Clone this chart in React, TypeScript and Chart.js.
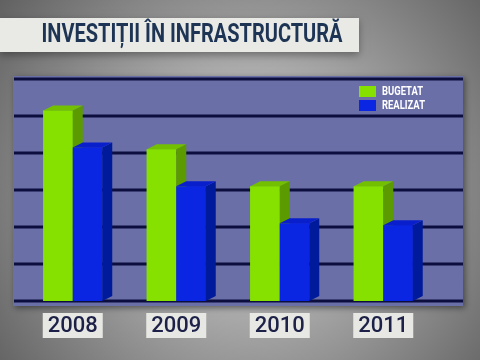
import React, { useEffect, useRef } from "react";
import { Chart, registerables } from "chart.js";
Chart.register(...registerables);

const TITLE = "INVESTIȚII ÎN INFRASTRUCTURĂ";
const YEARS = ["2008", "2009", "2010", "2011"];
const SERIES_LABELS = ["BUGETAT", "REALIZAT"];
const BUGETAT = [5.15, 4.1, 3.1, 3.1];
const REALIZAT = [4.15, 3.1, 2.1, 2.05];
const Y_MAX = 6;

const FRONT = ["#86e000", "#0a26e2"];
const SIDE = ["#5c9b00", "#001a9c"];
const TOP = ["#72c000", "#0a1fcc"];
const FONT = 'Roboto, "Liberation Sans", sans-serif';

const decor = {
  id: "decor",
  beforeDraw(chart: any) {
    const { ctx, width, height, chartArea: ca, scales } = chart;
    const y = scales.y;
    ctx.save();
    const g = ctx.createRadialGradient(250, 190, 20, 250, 190, 340);
    g.addColorStop(0, "#d2d2d2");
    g.addColorStop(1, "#575757");
    ctx.fillStyle = g;
    ctx.fillRect(0, 0, width, height);

    ctx.shadowColor = "rgba(0,0,0,0.35)";
    ctx.shadowBlur = 8;
    ctx.shadowOffsetY = 3;
    ctx.fillStyle = "#e9eae5";
    ctx.fillRect(0, 18, 359, 34);
    ctx.shadowColor = "transparent";
    ctx.fillStyle = "#1d3454";
    ctx.font = `bold 25px ${FONT}`;
    ctx.textAlign = "center";
    ctx.textBaseline = "middle";
    ctx.fillText(TITLE, 192, 36, 301);

    ctx.shadowColor = "rgba(0,0,0,0.45)";
    ctx.shadowBlur = 6;
    ctx.shadowOffsetX = 2;
    ctx.shadowOffsetY = 2;
    ctx.fillStyle = "#6a6fa7";
    ctx.fillRect(ca.left - 8, ca.top - 3, ca.right - ca.left + 36, ca.bottom - ca.top + 8);
    ctx.restore();

    ctx.save();
    ctx.strokeStyle = "#0c0e3e";
    ctx.lineWidth = 3;
    for (let v = 0; v <= Y_MAX; v++) {
      const py = Math.round(y.getPixelForValue(v));
      ctx.beginPath();
      ctx.moveTo(ca.left - 7, py);
      ctx.lineTo(ca.right + 28, py);
      ctx.stroke();
    }
    ctx.restore();
  },
  afterDatasetsDraw(chart: any) {
    const ctx = chart.ctx;
    const dx = 10, dy = 5;
    ctx.save();
    chart.data.datasets.forEach((_ds: any, idx: number) => {
      const meta = chart.getDatasetMeta(idx);
      meta.data.forEach((el: any) => {
        const { x, y, base, width } = el.getProps(["x", "y", "base", "width"], true);
        const l = x - width / 2, r = x + width / 2;
        ctx.fillStyle = FRONT[idx];
        ctx.fillRect(l, y, width, base - y);
        ctx.fillStyle = SIDE[idx];
        ctx.beginPath();
        ctx.moveTo(r, y);
        ctx.lineTo(r + dx, y - dy);
        ctx.lineTo(r + dx, base - dy);
        ctx.lineTo(r, base);
        ctx.closePath();
        ctx.fill();
        ctx.fillStyle = TOP[idx];
        ctx.beginPath();
        ctx.moveTo(l, y);
        ctx.lineTo(l + dx, y - dy);
        ctx.lineTo(r + dx, y - dy);
        ctx.lineTo(r, y);
        ctx.closePath();
        ctx.fill();
      });
    });
    ctx.restore();
  },
  afterDraw(chart: any) {
    const ctx = chart.ctx;
    ctx.save();
    SERIES_LABELS.forEach((lab, i) => {
      const top = 86 + i * 14;
      ctx.fillStyle = FRONT[i];
      ctx.fillRect(359, top, 17, 11);
      ctx.fillStyle = "#ffffff";
      ctx.font = `bold 12px ${FONT}`;
      ctx.textAlign = "left";
      ctx.textBaseline = "middle";
      ctx.fillText(lab, 382, top + 6, i === 0 ? 41 : 43);
    });
    ctx.restore();
  },
};

export default function App() {
  const ref = useRef<HTMLCanvasElement>(null);
  useEffect(() => {
    if (!ref.current) return;
    const chart = new Chart(ref.current, {
      type: "bar",
      data: {
        labels: YEARS,
        datasets: [
          { label: SERIES_LABELS[0], data: BUGETAT, backgroundColor: FRONT[0] },
          { label: SERIES_LABELS[1], data: REALIZAT, backgroundColor: FRONT[1] },
        ],
      },
      options: {
        responsive: false,
        animation: false,
        devicePixelRatio: 1,
        layout: { padding: { left: 21, right: 45, top: 79, bottom: 0 } },
        datasets: { bar: { categoryPercentage: 0.57, barPercentage: 1 } },
        plugins: { legend: { display: false }, title: { display: false }, tooltip: { enabled: false } },
        scales: {
          y: { display: false, min: 0, max: Y_MAX, ticks: { stepSize: 1 } },
          x: {
            grid: { display: false, drawTicks: false },
            border: { display: false },
            ticks: {
              color: "#1d2148",
              font: { family: FONT, size: 22, weight: "500", lineHeight: 1 },
              padding: 14,
              showLabelBackdrop: true,
              backdropColor: "#e7e8e3",
              backdropPadding: { top: 2, bottom: 1, left: 5, right: 5 },
            },
            afterFit(s: any) {
              s.height = 59;
            },
          },
        },
      },
      plugins: [decor],
    } as any);
    return () => chart.destroy();
  }, []);
  return (
    <div style={{ position: "absolute", left: 0, top: 0, width: 480, height: 360 }}>
      <canvas ref={ref} width={480} height={360} />
    </div>
  );
}
